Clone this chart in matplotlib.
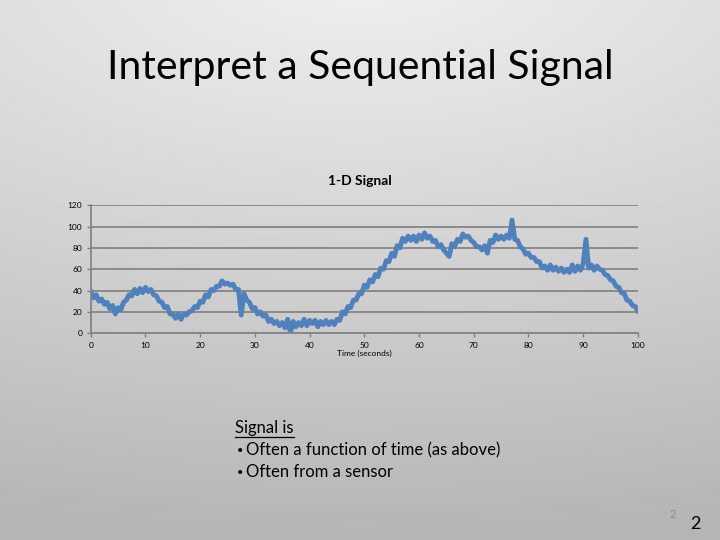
import numpy as np
import matplotlib
matplotlib.use("Agg")
import matplotlib.pyplot as plt

# ----------------------------
# Data (one sample every 0.5 s)
# ----------------------------
t_start, t_step = 0.0, 0.5
signal = [
    39, 33, 36, 30, 32, 27, 29, 23, 26, 18,
    24, 22, 29, 31, 36, 35, 41, 37, 42, 38,
    43, 39, 41, 36, 35, 30, 29, 24, 25, 18,
    18, 14, 18, 13, 18, 17, 20, 21, 25, 24,
    30, 29, 36, 34, 41, 40, 44, 44, 49, 46,
    47, 45, 46, 41, 41, 17, 37, 31, 29, 23,
    24, 18, 20, 16, 17, 11, 13, 9, 11, 7,
    10, 5, 13, 0, 11, 6, 10, 7, 13, 7,
    12, 9, 12, 6, 11, 8, 12, 8, 11, 8,
    13, 12, 20, 18, 25, 24, 31, 31, 37, 37,
    45, 43, 50, 48, 55, 53, 61, 60, 68, 67,
    75, 72, 82, 80, 89, 86, 91, 87, 91, 86,
    92, 88, 94, 89, 91, 86, 87, 81, 83, 78,
    75, 72, 84, 81, 88, 86, 93, 90, 91, 87,
    85, 81, 81, 78, 82, 75, 87, 85, 92, 88,
    91, 88, 92, 89, 106, 88, 87, 81, 79, 74,
    75, 71, 71, 67, 67, 61, 63, 59, 64, 59,
    62, 58, 61, 57, 60, 57, 64, 58, 63, 59,
    65, 88, 61, 64, 59, 63, 60, 59, 55, 54,
    50, 49, 44, 43, 38, 37, 31, 30, 26, 25,
    21,
]
time = t_start + t_step * np.arange(len(signal))

x_ticks = [0, 10, 20, 30, 40, 50, 60, 70, 80, 90, 100]
y_ticks = [0, 20, 40, 60, 80, 100, 120]

title = "Interpret a Sequential Signal"
chart_title = "1-D Signal"
x_label = "Time (seconds)"
bullets = ["Often a function of time (as above)", "Often from a sensor"]

# ----------------------------
# Figure + slide background
# ----------------------------
plt.rcParams["font.family"] = ["Lato", "DejaVu Sans"]

fig = plt.figure(figsize=(7.2, 5.4), dpi=100)

bg = fig.add_axes([0, 0, 1, 1], zorder=-10)
gx, gy = np.meshgrid(np.linspace(0, 1, 360), np.linspace(0, 1, 270))
r = np.sqrt(0.35 * (gx - 0.5) ** 2 + (gy + 0.05) ** 2)
shade = 0.94 - 0.23 * np.clip(r / 1.05, 0, 1)
bg.imshow(shade, cmap="gray", vmin=0, vmax=1, aspect="auto",
          extent=[0, 1, 1, 0], interpolation="bilinear")
bg.set_xlim(0, 1)
bg.set_ylim(1, 0)
bg.axis("off")

# ----------------------------
# Chart
# ----------------------------
ax = fig.add_axes([0.126, 0.383, 0.760, 0.237])
ax.set_facecolor("none")
ax.plot(time, signal, color="#4F81BD", lw=3.5, solid_joinstyle="round")

ax.set_xlim(0, 100)
ax.set_ylim(0, 120)
ax.set_xticks(x_ticks)
ax.set_yticks(y_ticks)
ax.tick_params(labelsize=6, color="#808080", length=3, width=1, pad=3)
ax.grid(axis="y", color="#858585", lw=1.3)
ax.set_axisbelow(True)
for side in ["top", "right"]:
    ax.spines[side].set_visible(False)
for side in ["left", "bottom"]:
    ax.spines[side].set_color("#858585")
    ax.spines[side].set_linewidth(1.3)
ax.set_xlabel(x_label, fontsize=6, labelpad=1)

# ----------------------------
# Slide text
# ----------------------------
fig.text(0.5, 1 - 67 / 540, title, ha="center", va="center", fontsize=29.5)
fig.text(0.5, 1 - 181 / 540, chart_title, ha="center", va="center",
         fontsize=10, fontweight="bold")

head = fig.text(235 / 720, 1 - 428 / 540, "Signal is", ha="left",
                va="center", fontsize=12)
for i, b in enumerate(bullets):
    y = 1 - (450 + 22 * i) / 540
    fig.text(237 / 720, y, "\u2022", ha="left", va="center", fontsize=8)
    fig.text(246 / 720, y, b, ha="left", va="center", fontsize=12)

# underline the heading to its own width
fig.canvas.draw()
bb = head.get_window_extent().transformed(fig.transFigure.inverted())
fig.add_artist(plt.Line2D([bb.x0, bb.x1], [1 - 437 / 540] * 2,
                          color="black", lw=0.9))

fig.text(673 / 720, 1 - 514 / 540, "2", ha="center", va="center",
         fontsize=8, color="#8c8c8c")
fig.text(695 / 720, 1 - 524 / 540, "2", ha="center", va="center",
         fontsize=13, color="black")

fig.savefig("out.png", dpi=100)
plt.close(fig)
